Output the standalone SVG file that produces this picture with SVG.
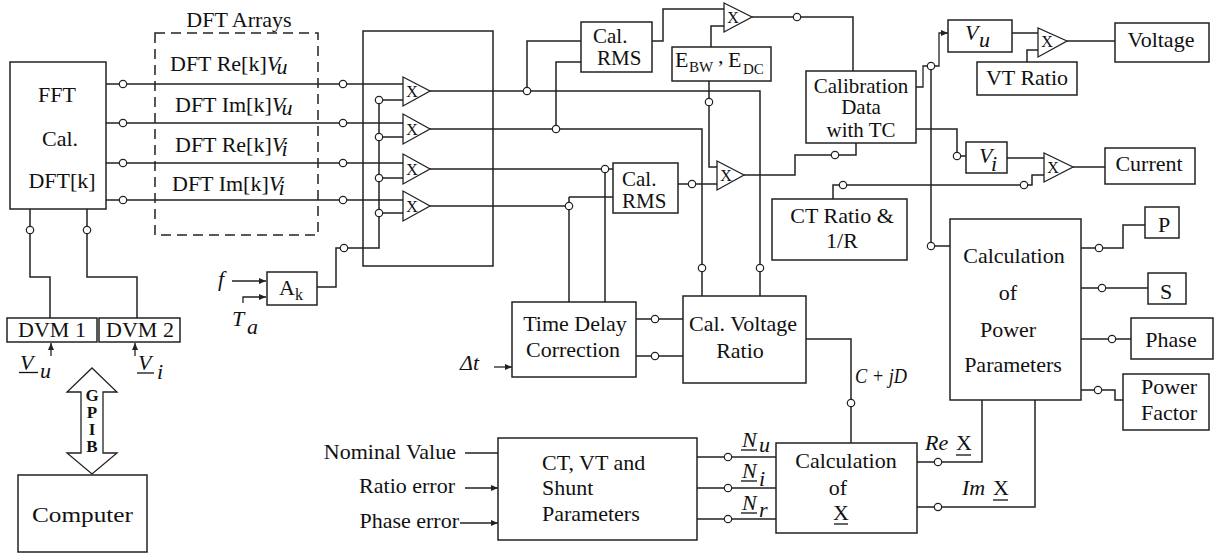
<svg xmlns="http://www.w3.org/2000/svg" width="1215" height="557" viewBox="0 0 1215 557" font-family="'Liberation Serif', 'DejaVu Serif', serif">
<style>
.bx{fill:none;stroke:#222;stroke-width:1.5}
.ln{fill:none;stroke:#222;stroke-width:1.5}
.ar{fill:none;stroke:#222;stroke-width:1.3;marker-end:url(#ah)}
.c{fill:#fff;stroke:#222;stroke-width:1.2}
.tri{fill:#fff;stroke:#222;stroke-width:1.3}
.ul{stroke:#111;stroke-width:1.3}
text{font-family:'Liberation Serif','DejaVu Serif',serif;font-size:22px;fill:#111}
.m{text-anchor:middle}
.e{text-anchor:end}
.i{font-style:italic}
.x{font-size:16px;text-anchor:middle}
.s{font-size:15px}
.b{font-weight:bold;font-size:17px;text-anchor:middle}
.t21{font-size:21px}
</style>
<defs>
<marker id="ah" markerUnits="userSpaceOnUse" markerWidth="8" markerHeight="6" refX="7" refY="3" orient="auto">
<path d="M0,0 L7,3 L0,6 z" fill="#222"/>
</marker>
</defs>
<rect width="1215" height="557" fill="#fff"/>

<g id="connectors">
<path class="ln" d="M106,84H403M106,123H403M106,163H403M106,200H403"/>
<path class="ln" d="M30,209V277H50V318M87,209V277H137V318"/>
<path class="ln" d="M317,287H336V248H379V100M379,100H403M379,137H403M379,178H403M379,213H403"/>
<path class="ar" d="M232,281H266"/>
<path class="ar" d="M243,303V297H266"/>
<path class="ln" d="M430,91H760V296M527,91V41H581"/>
<path class="ln" d="M430,129H702V296M556,129V62H581"/>
<path class="ln" d="M430,169H613M605,169V302"/>
<path class="ln" d="M430,206H569M569,197H613M569,197V302"/>
<path class="ln" d="M678,184H717"/>
<path class="ln" d="M709,81V167H717"/>
<path class="ln" d="M744,175H795V155H856V143"/>
<path class="ln" d="M652,41H663V9H724"/>
<path class="ln" d="M711,47V26H724"/>
<path class="ln" d="M752,17H853V71"/>
<path class="ar" d="M916,87H923V66H939V33H948"/>
<path class="ln" d="M931,66V246H950"/>
<path class="ln" d="M916,129H957V156H966"/>
<path class="ln" d="M1012,33H1038M1027,62V50H1038M1067,41H1115"/>
<path class="ln" d="M1007,158H1044M1073,167H1105"/>
<path class="ln" d="M833,199V185H1032V175H1044"/>
<path class="ln" d="M1081,248H1123V225H1145M1081,288H1148M1081,339H1131M1081,390H1115V400H1123"/>
<path class="ln" d="M917,462H982V400M917,507H1035V400"/>
<path class="ln" d="M806,339H851V443"/>
<path class="ln" d="M636,319H683M636,356H683"/>
<path class="ar" d="M494,367H512"/>
<path class="ln" d="M697,457H776M697,488H776M697,519H776"/>
<path class="ar" d="M465,453H498M465,488H498"/>
<path class="ar" d="M460,523H498"/>
<path class="ar" d="M51,356V343"/>
<path class="ar" d="M135,356V343"/>
<g>
<circle class="c" cx="123" cy="84" r="3.7"/><circle class="c" cx="123" cy="123" r="3.7"/>
<circle class="c" cx="123" cy="163" r="3.7"/><circle class="c" cx="123" cy="200" r="3.7"/>
<circle class="c" cx="343" cy="84" r="3.7"/><circle class="c" cx="343" cy="123" r="3.7"/>
<circle class="c" cx="343" cy="163" r="3.7"/><circle class="c" cx="343" cy="200" r="3.7"/>
<circle class="c" cx="30" cy="230" r="3.7"/><circle class="c" cx="87" cy="230" r="3.7"/>
<circle class="c" cx="344" cy="248" r="3.7"/>
<circle class="c" cx="379" cy="100" r="3.7"/><circle class="c" cx="379" cy="137" r="3.7"/>
<circle class="c" cx="379" cy="178" r="3.7"/><circle class="c" cx="379" cy="213" r="3.7"/>
<circle class="c" cx="527" cy="91" r="3.7"/><circle class="c" cx="556" cy="129" r="3.7"/>
<circle class="c" cx="605" cy="169" r="3.7"/><circle class="c" cx="569" cy="206" r="3.7"/>
<circle class="c" cx="692" cy="184" r="3.7"/><circle class="c" cx="709" cy="102" r="3.7"/>
<circle class="c" cx="835" cy="155" r="3.7"/><circle class="c" cx="797" cy="17" r="3.7"/>
<circle class="c" cx="702" cy="268" r="3.7"/><circle class="c" cx="760" cy="268" r="3.7"/>
<circle class="c" cx="931" cy="66" r="3.7"/><circle class="c" cx="931" cy="246" r="3.7"/>
<circle class="c" cx="957" cy="156" r="3.7"/>
<circle class="c" cx="843" cy="185" r="3.7"/><circle class="c" cx="1024" cy="185" r="3.7"/>
<circle class="c" cx="1099" cy="248" r="3.7"/><circle class="c" cx="1102" cy="288" r="3.7"/>
<circle class="c" cx="1112" cy="339" r="3.7"/><circle class="c" cx="1098" cy="390" r="3.7"/>
<circle class="c" cx="938" cy="462" r="3.7"/><circle class="c" cx="938" cy="507" r="3.7"/>
<circle class="c" cx="851" cy="403" r="3.7"/>
<circle class="c" cx="655" cy="319" r="3.7"/><circle class="c" cx="655" cy="356" r="3.7"/>
<circle class="c" cx="728" cy="457" r="3.7"/><circle class="c" cx="728" cy="488" r="3.7"/>
<circle class="c" cx="728" cy="519" r="3.7"/>
</g>
</g>

<g id="fft">
<rect class="bx" x="10" y="62" width="96" height="147"/>
<text class="m" x="57" y="102">FFT</text>
<text class="m" x="60" y="146">Cal.</text>
<text class="m" x="62" y="188">DFT[k]</text>
</g>

<g id="dft-arrays">
<rect class="bx" x="155" y="33" width="163" height="202" stroke-dasharray="10 6"/>
<text class="m" x="239" y="27" font-size="21">DFT Arrays</text>
<text x="170" y="71">DFT Re[k]<tspan class="i">V</tspan><tspan class="i" dx="-2" dy="3">u</tspan></text>
<text x="175" y="112">DFT Im[k]<tspan class="i">V</tspan><tspan class="i" dx="-2" dy="3">u</tspan></text>
<text x="175" y="152">DFT Re[k]<tspan class="i">V</tspan><tspan class="i" dx="-2" dy="4">i</tspan></text>
<text x="172" y="191">DFT Im[k]<tspan class="i">V</tspan><tspan class="i" dx="-2" dy="4">i</tspan></text>
</g>

<g id="multiplier-block">
<rect class="bx" x="363" y="31" width="130" height="235"/>
<polygon class="tri" points="403,77 403,106 430,91"/><text class="x" x="412" y="97">X</text>
<polygon class="tri" points="403,114 403,144 430,129"/><text class="x" x="412" y="135">X</text>
<polygon class="tri" points="403,154 403,184 430,169"/><text class="x" x="412" y="175">X</text>
<polygon class="tri" points="403,191 403,221 430,206"/><text class="x" x="412" y="212">X</text>
</g>

<g id="ak">
<rect class="bx" x="267" y="272" width="50" height="33"/>
<text x="279" y="295" font-size="20">A<tspan font-size="16" dy="5">k</tspan></text>
<text class="i" x="218" y="286">f</text>
<text class="i" x="232" y="326">T</text>
<text class="i" x="247" y="334">a</text>
</g>

<g id="dvm1">
<rect class="bx" x="7" y="318" width="90" height="24"/>
<text class="m" x="52" y="337" font-size="21">DVM 1</text>
<text class="i" x="20" y="370">V</text><text class="i" x="40" y="378">u</text>
<line class="ul" x1="19" y1="372.5" x2="38" y2="372.5"/>
</g>
<g id="dvm2">
<rect class="bx" x="99" y="318" width="81" height="24"/>
<text class="m" x="140" y="337" font-size="21">DVM 2</text>
<text class="i" x="138" y="370">V</text><text class="i" x="157" y="379">i</text>
<line class="ul" x1="137" y1="373" x2="154" y2="373"/>
</g>

<g id="gpib">
<polygon class="tri" points="92,368 117,392 103,392 103,453 117,453 92,474 67,453 81,453 81,392 67,392"/>
<text class="b" x="92" y="401">G</text>
<text class="b" x="92" y="418">P</text>
<text class="b" x="92" y="435">I</text>
<text class="b" x="92" y="452">B</text>
</g>

<g id="computer">
<rect class="bx" x="18" y="475" width="129" height="77"/>
<text x="32" y="522" font-size="25" textLength="101" lengthAdjust="spacingAndGlyphs">Computer</text>
</g>

<g id="cal-rms-1">
<rect class="bx" x="581" y="22" width="71" height="50"/>
<text class="t21" x="593" y="43">Cal.</text>
<text class="t21" x="597" y="65">RMS</text>
</g>
<g id="cal-rms-2">
<rect class="bx" x="613" y="163" width="65" height="50"/>
<text class="t21" x="622" y="186">Cal.</text>
<text class="t21" x="622" y="208">RMS</text>
</g>

<g id="mult-top"><polygon class="tri" points="724,3 724,32 752,17"/><text class="x" x="733" y="23">X</text></g>
<g id="mult-mid"><polygon class="tri" points="717,161 717,190 744,175"/><text class="x" x="726" y="181">X</text></g>

<g id="ebw">
<rect class="bx" x="672" y="47" width="99" height="34"/>
<text x="675" y="67">E</text><text class="s" x="689" y="72">BW</text>
<text x="718" y="63">,</text>
<text x="728" y="67">E</text><text class="s" x="743" y="74">DC</text>
</g>

<g id="calibration">
<rect class="bx" x="806" y="71" width="110" height="72"/>
<text class="m t21" x="861" y="93">Calibration</text>
<text class="m t21" x="861" y="114">Data</text>
<text class="m t21" x="861" y="137">with TC</text>
</g>

<g id="vu">
<rect class="bx" x="948" y="20" width="64" height="32"/>
<text class="i" x="965" y="40">V</text><text class="i" x="979" y="47">u</text>
</g>
<g id="mult-v"><polygon class="tri" points="1038,28 1038,57 1067,41"/><text class="x" x="1047" y="47">X</text></g>
<g id="vt-ratio">
<rect class="bx" x="977" y="62" width="100" height="33"/>
<text class="m" x="1027" y="85">VT Ratio</text>
</g>
<g id="voltage">
<rect class="bx" x="1115" y="23" width="94" height="39"/>
<text class="m" x="1161" y="47">Voltage</text>
</g>

<g id="vi">
<rect class="bx" x="966" y="142" width="41" height="31"/>
<text class="i" x="979" y="163">V</text><text class="i" x="991" y="171">i</text>
</g>
<g id="mult-i"><polygon class="tri" points="1044,153 1044,182 1073,167"/><text class="x" x="1053" y="173">X</text></g>
<g id="current">
<rect class="bx" x="1105" y="148" width="90" height="36"/>
<text class="m" x="1149" y="171">Current</text>
</g>

<g id="ct-ratio">
<rect class="bx" x="772" y="199" width="135" height="61"/>
<text class="m" x="842" y="223">CT Ratio &amp;</text>
<text class="m" x="842" y="248">1/R</text>
</g>

<g id="power-calc">
<rect class="bx" x="950" y="219" width="131" height="181"/>
<text class="m" x="1014" y="263">Calculation</text>
<text class="m" x="1008" y="300">of</text>
<text class="m" x="1008" y="337">Power</text>
<text class="m" x="1013" y="372">Parameters</text>
</g>
<g id="p"><rect class="bx" x="1145" y="207" width="34" height="31"/><text class="m" x="1164" y="232">P</text></g>
<g id="s"><rect class="bx" x="1148" y="273" width="38" height="31"/><text class="m" x="1166" y="299">S</text></g>
<g id="phase"><rect class="bx" x="1131" y="318" width="82" height="41"/><text class="m" x="1171" y="347">Phase</text></g>
<g id="pf"><rect class="bx" x="1123" y="374" width="86" height="56"/>
<text class="m" x="1169" y="394">Power</text><text class="m" x="1169" y="420">Factor</text></g>

<g id="time-delay">
<rect class="bx" x="512" y="302" width="124" height="75"/>
<text class="m" x="575" y="331">Time Delay</text>
<text class="m" x="573" y="357">Correction</text>
<text class="i" x="460" y="370">Δt</text>
</g>

<g id="cal-voltage">
<rect class="bx" x="683" y="296" width="123" height="87"/>
<text class="m" x="743" y="331">Cal. Voltage</text>
<text class="m" x="740" y="358">Ratio</text>
<text class="i" x="855" y="383" font-size="20" textLength="52" lengthAdjust="spacingAndGlyphs">C + jD</text>
</g>

<g id="inputs">
<text class="e" x="456" y="459">Nominal Value</text>
<text class="e" x="455" y="493">Ratio error</text>
<text class="e" x="459" y="528">Phase error</text>
</g>

<g id="ct-vt">
<rect class="bx" x="498" y="438" width="199" height="102"/>
<text x="542" y="470">CT, VT and</text>
<text x="542" y="495">Shunt</text>
<text x="542" y="521">Parameters</text>
<text class="i" x="742" y="447">N</text><text class="i" x="759" y="452" font-size="19">u</text>
<line class="ul" x1="741" y1="450" x2="757" y2="450"/>
<text class="i" x="742" y="478">N</text><text class="i" x="759" y="486" font-size="19">i</text>
<line class="ul" x1="741" y1="481" x2="757" y2="481"/>
<text class="i" x="742" y="510">N</text><text class="i" x="759" y="517" font-size="19">r</text>
<line class="ul" x1="741" y1="513" x2="757" y2="513"/>
</g>

<g id="calc-x">
<rect class="bx" x="776" y="443" width="141" height="90"/>
<text class="m" x="846" y="468">Calculation</text>
<text class="m" x="838" y="495">of</text>
<text class="m" x="841" y="520">X</text>
<line class="ul" x1="834" y1="524" x2="848" y2="524"/>
<text class="i" x="925" y="450">Re</text><text x="956" y="450">X</text>
<line class="ul" x1="956" y1="455" x2="971" y2="455"/>
<text class="i" x="962" y="495">Im</text><text x="993" y="495">X</text>
<line class="ul" x1="993" y1="500" x2="1008" y2="500"/>
</g>
</svg>
